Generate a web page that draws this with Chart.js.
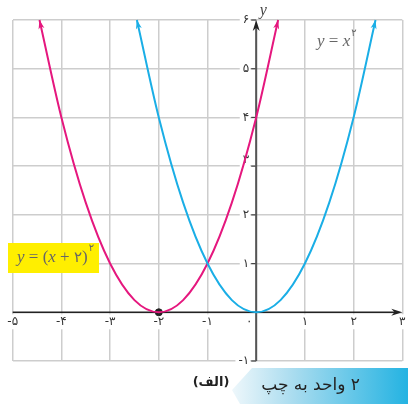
<!DOCTYPE html>
<html>
<head>
<meta charset="utf-8">
<script src="https://cdn.jsdelivr.net/npm/chart.js@4/dist/chart.umd.min.js"></script>
<style>
  html, body { margin: 0; padding: 0; background: #fff; }
  #wrap { width: 408px; height: 406px; position: relative; }
</style>
</head>
<body>
<div id="wrap"><canvas id="mycanvas" width="408" height="406"></canvas></div>
<script>
// y = x^2 (blue)
var blueX = [-2.45, -2, -1.5, -1, -0.5, 0, 0.5, 1, 1.5, 2, 2.45];
var blueY = [6, 4, 2.25, 1, 0.25, 0, 0.25, 1, 2.25, 4, 6];
// y = (x+2)^2 (magenta)
var pinkX = [-4.45, -4, -3.5, -3, -2.5, -2, -1.5, -1, -0.5, 0, 0.45];
var pinkY = [6, 4, 2.25, 1, 0.25, 0, 0.25, 1, 2.25, 4, 6];
// vertex dot
var dotX = [-2];
var dotY = [0];

var xTicks = [-5, -4, -3, -2, -1, 0, 1, 2, 3];
var xTickLabels = ['-۵', '-۴', '-۳', '-۲', '-۱', '۰', '۱', '۲', '۳'];
var yTicks = [-1, 1, 2, 3, 4, 5, 6];
var yTickLabels = ['-۱', '۱', '۲', '۳', '۴', '۵', '۶'];

var pink = '#e5177e';
var blue = '#1aaee6';

function toPoints(xs, ys) {
  var pts = [];
  for (var i in xs) pts.push({x: xs[i], y: ys[i]});
  return pts;
}

function arrowHead(ctx, x, y, dx, dy, len, wid, color) {
  var l = Math.sqrt(dx * dx + dy * dy);
  dx /= l; dy /= l;
  var bx = x - dx * len, by = y - dy * len;
  var nx = -dy, ny = dx;
  ctx.save();
  ctx.fillStyle = color;
  ctx.beginPath();
  ctx.moveTo(x, y);
  ctx.lineTo(bx + nx * wid / 2, by + ny * wid / 2);
  ctx.lineTo(x - dx * len * 0.7, y - dy * len * 0.7);
  ctx.lineTo(bx - nx * wid / 2, by - ny * wid / 2);
  ctx.closePath();
  ctx.fill();
  ctx.restore();
}

// draws pieces one after another: [text, font]
function drawRun(ctx, parts, x, y) {
  for (var i in parts) {
    ctx.font = parts[i][1];
    ctx.fillText(parts[i][0], x, y);
    x += ctx.measureText(parts[i][0]).width;
  }
  return x;
}

var mathFont = 'italic 17px "Liberation Serif"';
var upFont = '17px "Liberation Serif"';
var digFont = '15px "DejaVu Sans"';

var decor = {
  id: 'decor',
  beforeDatasetsDraw: function(chart) {
    var ctx = chart.ctx;
    var xs = chart.scales.x, ys = chart.scales.y;
    var x0 = xs.getPixelForValue(0), y0 = ys.getPixelForValue(0);
    var left = chart.chartArea.left, right = chart.chartArea.right;
    var top = chart.chartArea.top, bottom = chart.chartArea.bottom;

    ctx.save();
    // x tick labels with white backing
    ctx.font = '12px "DejaVu Sans"';
    ctx.textBaseline = 'middle';
    ctx.textAlign = 'center';
    for (var i in xTicks) {
      var px = xs.getPixelForValue(xTicks[i]);
      if (xTicks[i] === 0) px -= 7;
      var w = ctx.measureText(xTickLabels[i]).width + 4;
      ctx.fillStyle = '#fff';
      ctx.fillRect(px - w / 2, y0 + 2, w, 15);
      ctx.fillStyle = '#333';
      ctx.fillText(xTickLabels[i], px, y0 + 10);
    }
    // y tick labels
    ctx.textAlign = 'right';
    for (var j in yTicks) {
      var py = ys.getPixelForValue(yTicks[j]);
      var w2 = ctx.measureText(yTickLabels[j]).width + 3;
      ctx.fillStyle = '#fff';
      ctx.fillRect(x0 - 7 - w2, py - 6, w2 + 1, 12);
      ctx.fillStyle = '#333';
      ctx.fillText(yTickLabels[j], x0 - 7, py + (yTicks[j] === 3 ? -6 : 0));
      ctx.strokeStyle = '#444';
      ctx.lineWidth = 1.2;
      ctx.beginPath();
      ctx.moveTo(x0 - 5, py);
      ctx.lineTo(x0, py);
      ctx.stroke();
    }

    // y axis
    ctx.strokeStyle = '#555';
    ctx.lineWidth = 2;
    ctx.beginPath();
    ctx.moveTo(x0, bottom);
    ctx.lineTo(x0, top + 6);
    ctx.stroke();
    arrowHead(ctx, x0, top, 0, -1, 11, 7, '#222');

    // x axis
    ctx.strokeStyle = '#222';
    ctx.lineWidth = 1.6;
    ctx.beginPath();
    ctx.moveTo(left, y0);
    ctx.lineTo(right - 6, y0);
    ctx.stroke();
    arrowHead(ctx, right, y0, 1, 0, 11, 7, '#222');

    // axis name
    ctx.fillStyle = '#444';
    ctx.textAlign = 'center';
    ctx.font = 'italic 16px "Liberation Serif"';
    ctx.fillText('y', x0 + 7, top - 9);
    ctx.restore();
  },
  afterDatasetsDraw: function(chart) {
    var ctx = chart.ctx;
    // curve end arrows from the spline control points
    [0, 1].forEach(function(di) {
      var meta = chart.getDatasetMeta(di);
      var pts = meta.data;
      var color = chart.data.datasets[di].borderColor;
      var first = pts[0], last = pts[pts.length - 1];
      arrowHead(ctx, first.x, first.y, first.x - first.cp2x, first.y - first.cp2y, 9, 6, color);
      arrowHead(ctx, last.x, last.y, last.x - last.cp1x, last.y - last.cp1y, 9, 6, color);
    });

    ctx.save();
    // equation labels
    ctx.fillStyle = '#666';
    ctx.textBaseline = 'middle';
    ctx.textAlign = 'left';
    var e1 = drawRun(ctx, [['y', mathFont], [' = ', upFont], ['x', mathFont]], 317, 42);
    ctx.font = '10px "DejaVu Sans"';
    ctx.fillText('۲', e1 + 1, 33);

    ctx.fillStyle = '#ffef00';
    ctx.fillRect(8, 243, 91, 30);
    ctx.fillStyle = '#666';
    var e2 = drawRun(ctx, [['y', mathFont], [' = (', upFont], ['x', mathFont], [' + ', upFont], ['۲', digFont], [')', upFont]], 17, 258);
    ctx.font = '10px "DejaVu Sans"';
    ctx.fillText('۲', e2 + 1, 248);

    // bottom banner
    var g = ctx.createLinearGradient(232, 0, 408, 0);
    g.addColorStop(0, '#eef7fb');
    g.addColorStop(0.35, '#a9dcef');
    g.addColorStop(1, '#24b3e2');
    ctx.fillStyle = g;
    ctx.beginPath();
    ctx.moveTo(252, 368);
    ctx.lineTo(408, 368);
    ctx.lineTo(408, 404);
    ctx.lineTo(240, 404);
    ctx.lineTo(232, 390);
    ctx.closePath();
    ctx.fill();

    ctx.fillStyle = '#222';
    ctx.direction = 'rtl';
    ctx.textAlign = 'right';
    ctx.font = '17px "DejaVu Sans"';
    ctx.fillText('۲ واحد به چپ', 360, 386);
    ctx.textAlign = 'center';
    ctx.font = 'bold 13px "DejaVu Sans"';
    ctx.fillText('(الف)', 211, 383);
    ctx.restore();
  }
};

var ctx = document.getElementById('mycanvas');

var chart = new Chart(ctx, {
  type: 'scatter',
  data: {
    datasets: [
      {
        label: 'y = x^2',
        data: toPoints(blueX, blueY),
        showLine: true,
        borderColor: blue,
        borderWidth: 2,
        pointRadius: 0,
        cubicInterpolationMode: 'monotone'
      },
      {
        label: 'y = (x+2)^2',
        data: toPoints(pinkX, pinkY),
        showLine: true,
        borderColor: pink,
        borderWidth: 2,
        pointRadius: 0,
        cubicInterpolationMode: 'monotone'
      },
      {
        label: 'vertex',
        data: toPoints(dotX, dotY),
        pointRadius: 3.5,
        backgroundColor: '#222',
        borderColor: '#222'
      }
    ]
  },
  options: {
    responsive: false,
    animation: false,
    clip: false,
    layout: { padding: { left: 12.7, right: 5.7, top: 20, bottom: 45 } },
    plugins: { legend: { display: false }, tooltip: { enabled: false } },
    scales: {
      x: {
        type: 'linear', min: -5, max: 3,
        ticks: { display: false, stepSize: 1 },
        grid: { color: '#cdcdcd', lineWidth: 1.5, drawTicks: false },
        border: { display: false }
      },
      y: {
        type: 'linear', min: -1, max: 6,
        ticks: { display: false, stepSize: 1 },
        grid: { color: '#cdcdcd', lineWidth: 1.5, drawTicks: false },
        border: { display: false }
      }
    }
  },
  plugins: [decor]
});
</script>
</body>
</html>
